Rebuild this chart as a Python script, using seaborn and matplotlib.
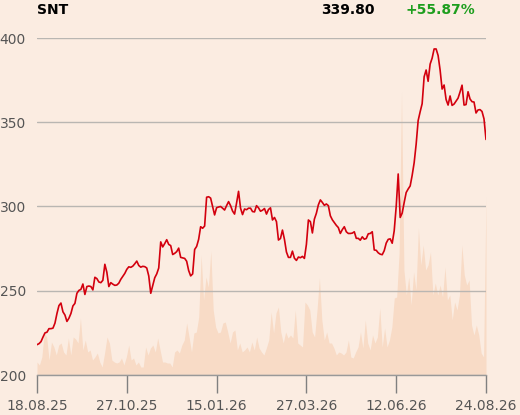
import numpy as np
import pandas as pd
import matplotlib
matplotlib.use("Agg")
import matplotlib.pyplot as plt
import seaborn as sns

# data
ticker = "SNT"
last_price = "339.80"
change = "+55.87%"
tick_labels = ["18.08.25", "27.10.25", "15.01.26", "27.03.26", "12.06.26", "24.08.26"]

price = [
    218.0, 218.6, 219.8, 222.5, 225.0, 225.4, 227.5, 227.5, 227.8, 230.8,
    236.5, 241.2, 242.7, 237.5, 235.6, 231.8, 233.7, 236.5, 241.0, 242.5,
    248.5, 250.2, 250.8, 254.0, 247.8, 252.5, 252.8, 252.5, 250.5, 258.0,
    257.2, 255.2, 254.8, 256.2, 265.7, 261.0, 252.5, 254.8, 253.9, 253.2,
    253.4, 254.5, 256.8, 258.5, 260.3, 262.7, 264.2, 263.9, 264.6, 266.0,
    267.6, 265.0, 264.0, 264.5, 264.3, 263.5, 258.8, 248.5, 253.0, 257.7,
    260.0, 263.5, 279.0, 276.0, 278.0, 280.3, 277.5, 276.8, 271.5, 272.2,
    273.2, 275.3, 269.8, 269.5, 269.2, 267.5, 262.0, 258.8, 260.0, 274.5,
    276.3, 280.5, 288.0, 287.1, 288.4, 305.5, 305.8, 305.0, 300.0, 295.0,
    299.3, 299.7, 300.0, 299.0, 297.9, 300.5, 302.9, 300.5, 297.3, 295.5,
    302.0, 309.0, 299.0, 295.2, 298.5, 298.1, 299.0, 299.0, 297.0, 296.8,
    300.5, 299.2, 297.2, 297.8, 298.8, 295.5, 298.2, 299.2, 292.0, 293.5,
    291.0, 280.1, 281.0, 286.0, 280.5, 273.0, 269.8, 269.8, 273.5, 269.3,
    268.0, 270.0, 269.6, 270.4, 269.2, 277.5, 292.0, 291.0, 284.3, 292.5,
    296.0, 301.0, 303.9, 302.4, 300.7, 301.5, 300.5, 294.5, 292.1, 290.5,
    288.8, 287.5, 284.0, 286.3, 288.0, 285.0, 284.0, 284.0, 284.2, 285.0,
    281.1, 281.1, 280.0, 282.0, 280.6, 281.0, 283.8, 284.0, 285.0, 274.2,
    274.0, 272.5, 271.7, 271.4, 273.8, 278.3, 280.5, 280.8, 278.2, 285.6,
    300.0, 319.3, 293.5, 296.1, 302.4, 308.3, 310.4, 312.2, 318.5, 326.0,
    337.0, 351.0, 356.2, 361.0, 377.0, 381.0, 374.3, 384.5, 388.0, 393.5,
    393.5, 389.6, 381.0, 369.7, 372.1, 363.5, 360.2, 365.6, 360.0, 360.8,
    362.5, 364.3, 368.0, 372.0, 360.2, 360.5, 368.1, 363.8, 362.2, 362.0,
    355.5, 357.3, 357.5, 356.4, 352.0, 339.8,
]

# volume, thousands of shares
volume = [
    13, 10, 18, 42, 38, 15, 33, 28, 20, 30, 32, 23, 20, 37, 20, 38, 36, 32, 57, 25,
    35, 23, 25, 15, 18, 22, 13, 8, 22, 38, 32, 15, 13, 12, 13, 17, 10, 18, 30, 15,
    17, 10, 13, 8, 8, 28, 20, 27, 30, 23, 37, 25, 13, 13, 12, 12, 8, 23, 25, 22,
    30, 35, 52, 38, 23, 42, 43, 58, 120, 75, 98, 88, 124, 65, 48, 42, 43, 52, 53, 43,
    32, 43, 45, 25, 32, 23, 25, 28, 23, 33, 25, 38, 27,
    23, 20, 27, 35, 63, 42, 62, 68, 43, 32, 43, 37, 40, 37, 65, 32, 30, 28, 73, 70,
    65, 43, 38, 65, 97, 55, 35, 43, 32, 32, 27, 20, 23, 22, 20, 23, 35, 18, 17, 23,
    28, 43, 27, 55, 32, 25, 40, 32, 38, 67, 28, 47, 28, 35, 48, 77, 78, 122, 283,
    105, 80, 98, 70, 103, 85, 147, 110, 130, 105, 110, 123, 80, 92, 80, 90, 78, 108,
    75, 80, 55, 73, 65, 80, 130, 100, 90, 95, 50, 40, 50, 40, 22, 18, 178,
]

bg = "#fbece1"
sns.set_theme(style="white", rc={"figure.facecolor": bg, "axes.facecolor": bg})
plt.rcParams["font.family"] = ["DejaVu Sans"]

n = len(price)
df = pd.DataFrame({"idx": np.arange(n), "price": price})
vol_x = np.linspace(0, n - 1, len(volume))

fig = plt.figure(figsize=(5.2, 4.15), dpi=100)
ax = fig.add_axes([37 / 520, 1 - 375 / 415, 449 / 520, 337 / 415])
ax2 = ax.twinx()
ax2.set_zorder(0)
ax.set_zorder(1)
ax.patch.set_visible(False)

#volume area in the back
ax2.fill_between(vol_x, volume, 0, color="#f8dbc6", lw=0)
ax2.set_ylim(0, 337)
ax2.set_yticks([])
for s in ax2.spines.values():
    s.set_visible(False)

sns.lineplot(data=df, x="idx", y="price", ax=ax, color="#d3000e", lw=1.2)
ax.set_xlim(0, n - 1)
ax.set_ylim(200, 400)
ax.set_yticks([200, 250, 300, 350, 400])
ax.yaxis.grid(True, color="#b9b6b2", lw=1)
ax.set_axisbelow(True)
ax.set_xticks(np.linspace(0, n - 1, len(tick_labels)))
ax.set_xticklabels(tick_labels)
ax.set_xlabel("")
ax.set_ylabel("")
ax.tick_params(axis="x", length=13, width=1, color="#808080", pad=4,
               labelsize=10, labelcolor="#555555", direction="out", bottom=True)
ax.tick_params(axis="y", length=0, pad=8, labelsize=10, labelcolor="#555555")
for side in ["top", "right", "left"]:
    ax.spines[side].set_visible(False)
ax.spines["bottom"].set_color("#999999")
ax.spines["bottom"].set_linewidth(1)

fig.text(37 / 520, 1 - 10 / 415, ticker, ha="left", va="center",
         fontsize=10, fontweight="bold", color="black")
fig.text(375 / 520, 1 - 10 / 415, last_price, ha="right", va="center",
         fontsize=10, fontweight="bold", color="black")
fig.text(475 / 520, 1 - 10 / 415, change, ha="right", va="center",
         fontsize=10, fontweight="bold", color="#1e9e1e")

fig.savefig("out.png", dpi=100, facecolor=bg)
